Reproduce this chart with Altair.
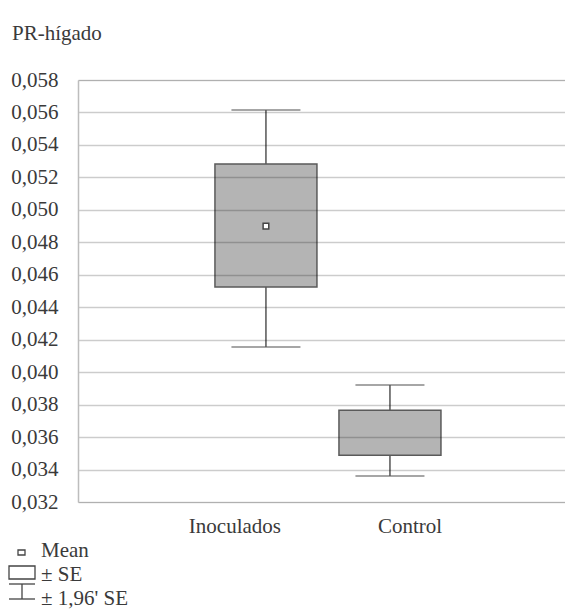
import altair as alt
import pandas as pd

groups = ["Inoculados", "Control"]
means = [0.0490, None]
se_low = [0.04525, 0.03488]
se_high = [0.05282, 0.03765]
ci_low = [0.04155, 0.03360]
ci_high = [0.05615, 0.03921]
y_ticks = [0.032, 0.034, 0.036, 0.038, 0.040, 0.042, 0.044, 0.046, 0.048, 0.050,
           0.052, 0.054, 0.056, 0.058]

df = pd.DataFrame({"group": groups, "mean": means, "se_low": se_low, "se_high": se_high,
                   "ci_low": ci_low, "ci_high": ci_high})

FONT = "Times New Roman"
TXT = "#3a3a3a"
FS = 21

x_axis = alt.Axis(title=None, domain=False, ticks=False, grid=False,
                  labelFont=FONT, labelFontSize=FS, labelColor=TXT,
                  labelPadding=13, labelAngle=0, labelOverlap=False,
                  labelOffset=alt.expr("datum.label == 'Inoculados' ? -31 : 20"))
x_scale = alt.Scale(type="band", paddingInner=0.073, paddingOuter=1, align=0.526)
y_scale = alt.Scale(domain=[0.032, 0.058], nice=False, zero=False)
y_axis = alt.Axis(title=None, values=y_ticks, ticks=False, domainColor="#bdbdbd", domainWidth=1.5,
                  grid=True, gridColor="#000000", gridOpacity=0.2, gridWidth=1.5,
                  labelFont=FONT, labelFontSize=FS, labelColor=TXT, labelPadding=20,
                  labelOverlap=False,
                  labelExpr="replace(format(datum.value, '.3f'), '.', ',')", zindex=1)


def X():
    return alt.X("group:N", sort=groups, scale=x_scale, axis=x_axis)


def Y(field):
    return alt.Y(field, type="quantitative", scale=y_scale, axis=y_axis)


base = alt.Chart(df)

whisker = base.mark_rule(color="#555555", strokeWidth=1.5).encode(
    x=X(), y=Y("ci_low"), y2="ci_high:Q")
caps_lo = base.mark_tick(color="#555555", thickness=1.5, size=69).encode(
    x=X(), y=Y("ci_low"))
caps_hi = base.mark_tick(color="#555555", thickness=1.5, size=69).encode(
    x=X(), y=Y("ci_high"))
box = base.mark_bar(size=102, color="#b4b4b4", stroke="#5a5a5a", strokeWidth=1.5).encode(
    x=X(), y=Y("se_low"), y2="se_high:Q")
mean_pt = base.transform_filter("isValid(datum.mean)").mark_point(
    shape="square", size=32, filled=True, fill="white", stroke="#444444",
    strokeWidth=1.5, opacity=1).encode(
    x=X(), y=Y("mean"))

# title and legend
title = alt.Chart(pd.DataFrame({"t": ["PR-hígado"]})).mark_text(
    font=FONT, fontSize=21, color=TXT, align="left", baseline="middle").encode(
    text="t:N", x=alt.value(-66), y=alt.value(-46))

leg_text = alt.Chart(pd.DataFrame({"t": ["Mean", "± SE", "± 1,96' SE"],
                                   "yy": [471, 495, 519]})).mark_text(
    font=FONT, fontSize=FS, color=TXT, align="left", baseline="middle").encode(
    text="t:N", x=alt.value(-37), y=alt.Y("yy:Q", scale=None))

leg_sq = alt.Chart(pd.DataFrame({"a": [0]})).mark_rect(
    fill="white", stroke="#444444", strokeWidth=1.3).encode(
    x=alt.value(-60), x2=alt.value(-53), y=alt.value(470), y2=alt.value(475))
leg_box = alt.Chart(pd.DataFrame({"a": [0]})).mark_rect(
    fill="white", stroke="#444444", strokeWidth=1.3).encode(
    x=alt.value(-69), x2=alt.value(-43), y=alt.value(486), y2=alt.value(499))
leg_w1 = alt.Chart(pd.DataFrame({"a": [0]})).mark_rule(color="#444444", strokeWidth=1.3).encode(
    x=alt.value(-69), x2=alt.value(-43), y=alt.value(504))
leg_w2 = alt.Chart(pd.DataFrame({"a": [0]})).mark_rule(color="#444444", strokeWidth=1.3).encode(
    x=alt.value(-69), x2=alt.value(-43), y=alt.value(519))
leg_w3 = alt.Chart(pd.DataFrame({"a": [0]})).mark_rule(color="#444444", strokeWidth=1.3).encode(
    x=alt.value(-56), y=alt.value(504), y2=alt.value(519))

chart = alt.layer(whisker, caps_lo, caps_hi, box, mean_pt, title, leg_text,
                  leg_sq, leg_box, leg_w1, leg_w2, leg_w3).properties(
    width=487, height=422,
    autosize=alt.AutoSizeParams(type="none"),
    padding={"left": 70, "top": 72, "right": 0, "bottom": 108},
).configure_view(stroke=None, strokeWidth=0).configure(background="white")

chart.save("out.html", embed_options={"renderer": "svg", "actions": False})
